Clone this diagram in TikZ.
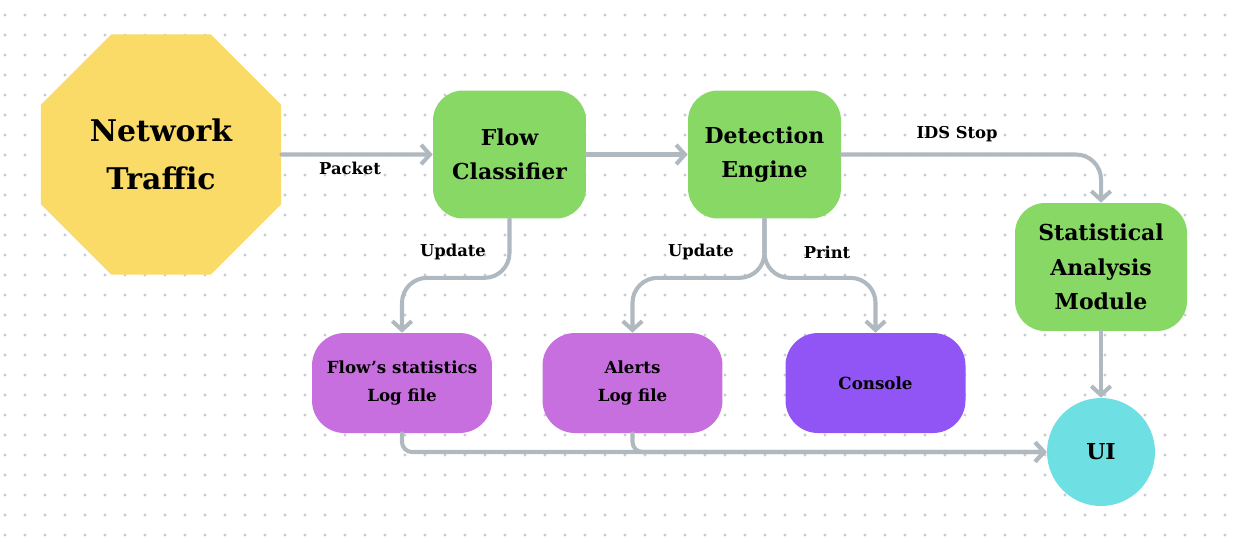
\documentclass[tikz,border=0pt]{standalone}
\usepackage{fontspec}
\setmainfont{DejaVu Serif}
\usetikzlibrary{arrows.meta, positioning, shapes.geometric, calc}

\definecolor{trafficyellow}{HTML}{FADB68}
\definecolor{stepgreen}{HTML}{88D866}
\definecolor{logpurple}{HTML}{C86FDF}
\definecolor{consolepurple}{HTML}{9155F5}
\definecolor{uicyan}{HTML}{6EE0E4}
\definecolor{linkgray}{HTML}{B0B8C0}
\definecolor{dotgray}{HTML}{C8CAD2}

\begin{document}
\begin{tikzpicture}[x=0.02cm, y=-0.02cm,
    stagebox/.style={rounded corners=0.6cm, fill=stepgreen, minimum width=3.06cm, minimum height=2.56cm, align=center, font=\bfseries\fontsize{12.5}{19.5}\selectfont},
    logbox/.style={rounded corners=0.65cm, minimum width=3.6cm, minimum height=2cm, align=center, font=\bfseries\fontsize{9.5}{15.5}\selectfont},
    conn/.style={draw=linkgray, line width=2.3pt, line cap=round, rounded corners=0.5cm, -{Straight Barb[length=5pt, width=11pt, line width=2.3pt]}},
    linklabel/.style={font=\bfseries\fontsize{9.3}{11}\selectfont}]
    \useasboundingbox (0,0) rectangle (1239,542);
    \fill[white] (0,0) rectangle (1239,542);

    % dotted background
    \foreach \i in {5,25,...,1235}
        \foreach \j in {15,35,...,535}
            \fill[dotgray] (\i,\j) circle (0.9pt);

    \node[regular polygon, regular polygon sides=8, minimum size=5.2cm, inner sep=0pt, fill=trafficyellow, align=center, font=\bfseries\fontsize{17}{27}\selectfont] (traffic) at (161,154.5) {Network\\Traffic};

    \node[stagebox] (flow) at (509.5,154.5) {Flow\\Classifier};
    \node[stagebox] (detect) at (764.5,154.5) {Detection\\Engine};
    \node[stagebox, minimum width=3.44cm] (stat) at (1101,267) {Statistical\\Analysis\\Module};

    \node[logbox, fill=logpurple] (flowlog) at (402,383) {Flow’s statistics\\Log file};
    \node[logbox, fill=logpurple] (alertlog) at (632.5,383) {Alerts\\Log file};
    \node[logbox, fill=consolepurple] (console) at (875.5,383) {Console};

    \node[circle, fill=uicyan, minimum size=2.16cm, font=\bfseries\fontsize{12.5}{15}\selectfont] (ui) at (1101,452) {UI};

    \draw[conn] (traffic.east) -- (flow.west);
    \draw[conn] (flow.east) -- (detect.west);
    \draw[conn] (detect.east) -| (stat.north);
    \draw[conn] (flow.south) -- ++(0,59) -| (flowlog.north);
    \draw[conn] (detect.south) -- ++(0,59) -| (alertlog.north);
    \draw[conn] (detect.south) -- ++(0,59) -| (console.north);
    \draw[conn] (stat.south) -- (ui.north);
    \draw[conn, rounded corners=0.2cm] (flowlog.south) |- (ui.west);
    \draw[conn, rounded corners=0.2cm] (alertlog.south) |- (ui.west);

    \node[linklabel] (packetlbl) at (350,168) {Packet};
    \node[linklabel] (stoplbl) at (957,134) {IDS Stop};
    \node[linklabel] (updlbl) at (453,252) {Update};
    \node[linklabel] (updlbl2) at (701,252) {Update};
    \node[linklabel] (printlbl) at (827,252) {Print};
\end{tikzpicture}
\end{document}
